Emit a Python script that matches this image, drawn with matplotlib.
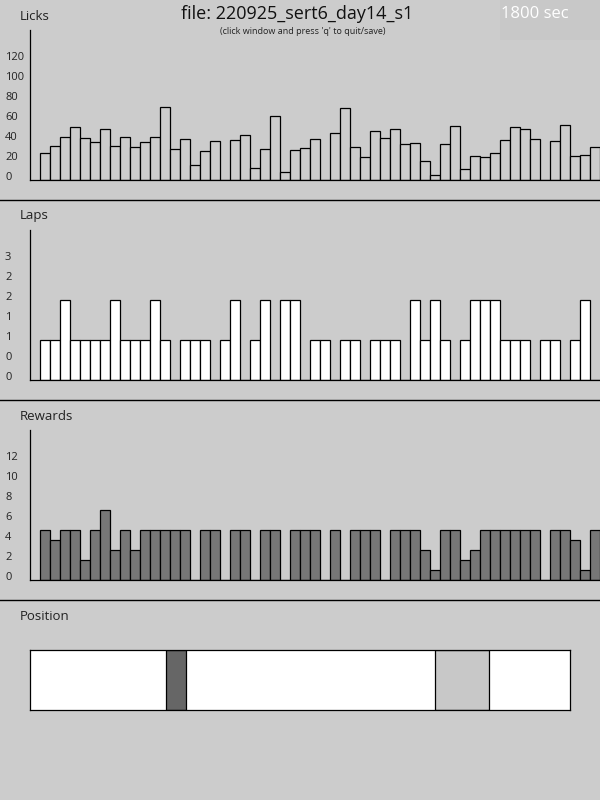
import numpy as np
import matplotlib.pyplot as plt
from matplotlib.patches import Rectangle

plt.rcParams['font.family'] = ['Open Sans', 'DejaVu Sans']

file_name = '220925_sert6_day14_s1'
elapsed = '1800 sec'

# one bar per time bin
licks = [27, 34, 43, 53, 42, 38, 51, 34, 43, 33, 38, 43, 73, 31, 41, 15, 29, 39, 0, 40,
         45, 12, 31, 64, 8, 30, 32, 41, 0, 47, 72, 33, 23, 49, 42, 51, 36, 37, 19, 5,
         36, 54, 11, 24, 23, 27, 40, 53, 51, 41, 0, 39, 55, 24, 25, 33]
laps = [1, 1, 2, 1, 1, 1, 1, 2, 1, 1, 1, 2, 1, 0, 1, 1, 1, 0, 1, 2,
        0, 1, 2, 0, 2, 2, 0, 1, 1, 0, 1, 1, 0, 1, 1, 1, 0, 2, 1, 2,
        1, 0, 1, 2, 2, 2, 1, 1, 1, 0, 1, 1, 0, 1, 2, 0]
rewards = [5, 4, 5, 5, 2, 5, 7, 3, 5, 3, 5, 5, 5, 5, 5, 0, 5, 5, 0, 5,
           5, 0, 5, 5, 0, 5, 5, 5, 0, 5, 0, 5, 5, 5, 0, 5, 5, 5, 3, 1,
           5, 5, 2, 3, 5, 5, 5, 5, 5, 5, 0, 5, 5, 4, 1, 5]

lick_ticks = [0, 20, 40, 60, 80, 100, 120]
lap_ticks = [0, 0.5, 1, 1.5, 2, 2.5, 3]
reward_ticks = [0, 2, 4, 6, 8, 10, 12]

# track position (fraction of track length)
reward_zone = (0.75, 0.85)
mouse_pos = (0.252, 0.289)

BG = '#cccccc'
W, H = 600, 800


def px_rect(x0, y0, x1, y1):
    return [x0 / W, 1 - y1 / H, (x1 - x0) / W, (y1 - y0) / H]


fig = plt.figure(figsize=(6, 8), dpi=100, facecolor=BG)
bg = fig.add_axes([0, 0, 1, 1])
bg.set_xlim(0, W)
bg.set_ylim(H, 0)
bg.axis('off')

# header
bg.add_patch(Rectangle((500, 0), 100, 40, facecolor='#c8c8c8', edgecolor='none'))
bg.text(501, 14, elapsed, color='white', fontsize=12, va='center', ha='left')
bg.text(297, 14, 'file: ' + file_name, fontsize=13, va='center', ha='center', color='#111111')
bg.text(303, 31, "(click window and press 'q' to quit/save)", fontsize=6.5, va='center',
        ha='center', color='#222222')

for y in [200, 400, 600]:
    bg.plot([0, W], [y, y], color='black', lw=1)


def bar_panel(top, values, ticks, labels, ymax, fc, name):
    ax = fig.add_axes(px_rect(30, top + 30, 600, top + 180))
    idx = np.arange(len(values))
    ax.bar(idx, values, width=1, align='edge', color=fc, edgecolor='black', linewidth=0.9)
    ax.set_xlim(-1, len(values))
    ax.set_ylim(0, ymax)
    ax.set_facecolor('none')
    ax.spines['top'].set_visible(False)
    ax.spines['right'].set_visible(False)
    ax.spines['left'].set_linewidth(0.9)
    ax.spines['bottom'].set_linewidth(0.9)
    ax.set_xticks([])
    off = 3.5 * ymax / 150
    ax.set_yticks(np.array(ticks) + off, labels)
    ax.tick_params(axis='y', length=0, pad=18, labelsize=8, labelcolor='#222222')
    for t in ax.get_yticklabels():
        t.set_ha('left')
    bg.text(20, top + 16, name, fontsize=9.5, va='center', ha='left', color='#222222')
    return ax


bar_panel(0, licks, lick_ticks, [str(v) for v in lick_ticks], 150, BG, 'Licks')
bar_panel(200, laps, lap_ticks, [str(int(v)) for v in lap_ticks], 150 / 40, 'white', 'Laps')
bar_panel(400, rewards, reward_ticks, [str(v) for v in reward_ticks], 15, '#777777', 'Rewards')

# position panel
bg.text(20, 616, 'Position', fontsize=9.5, va='center', ha='left', color='#222222')
axp = fig.add_axes(px_rect(30, 650, 570, 710))
axp.set_facecolor('white')
axp.set_xlim(0, 1)
axp.set_ylim(0, 1)
axp.axvspan(*reward_zone, facecolor='#c8c8c8', edgecolor='black', linewidth=0.9)
axp.axvspan(*mouse_pos, facecolor='#666666', edgecolor='black', linewidth=0.9)
axp.set_xticks([])
axp.set_yticks([])
for s in axp.spines.values():
    s.set_linewidth(0.9)

fig.savefig('out.png', dpi=100, facecolor=BG)
